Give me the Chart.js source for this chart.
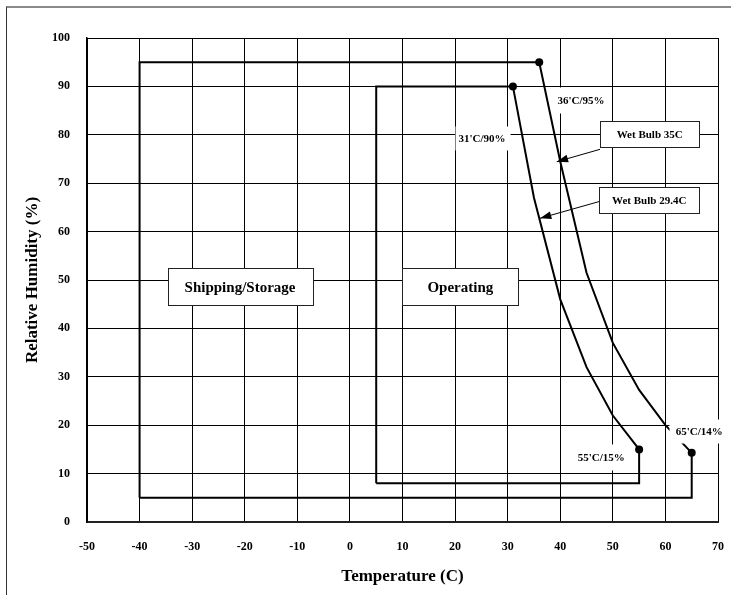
<!DOCTYPE html>
<html>
<head>
<meta charset="utf-8">
<script src="https://cdn.jsdelivr.net/npm/chart.js@4.4.0/dist/chart.umd.min.js"></script>
<style>
  html, body { margin: 0; padding: 0; background: #fff; }
  #wrap { position: relative; width: 731px; height: 595px; overflow: hidden; }
  #frame {
    position: absolute; left: 6px; top: 6px; width: 900px; height: 900px;
    border-top: 2px solid #8a8a8a; border-left: 1px solid #333;
    pointer-events: none;
  }
</style>
</head>
<body>
<div id="wrap">
  <canvas id="envChart" width="731" height="595"></canvas>
  <div id="frame"></div>
</div>
<script>
// temperature (C) and relative humidity (%) outlines
const shippingTemp = [-40, -40, 36, 40, 45, 50, 55, 60, 65, 65, -40];
const shippingRH   = [5, 95, 95, 74.5, 51.5, 37, 27.3, 20, 14.3, 5, 5];
const operatingTemp = [5, 5, 31, 35, 40, 45, 50, 55, 55, 5];
const operatingRH   = [8, 90, 90, 67, 46, 32, 22, 15, 8, 8];

// corner points that get a dot
const shippingDots = [2, 8];
const operatingDots = [2, 7];

const FONT = '"Liberation Serif", "Times New Roman", serif';

const toPoints = (xs, ys) => xs.map((t, i) => ({ x: t, y: ys[i] }));
const dotRadius = (n, idx) => Array.from({ length: n }, (_, i) => (idx.includes(i) ? 4 : 0));

// text boxes, arrows and corner notes drawn on top of the lines
const chartNotes = {
  id: "chartNotes",
  afterDatasetsDraw(chart, args, opts) {
    const { ctx } = chart;
    const xs = chart.scales.x;
    const ys = chart.scales.y;
    ctx.save();

    opts.arrows.forEach((a) => {
      const x1 = xs.getPixelForValue(a.from[0]);
      const y1 = ys.getPixelForValue(a.from[1]);
      const x2 = xs.getPixelForValue(a.to[0]);
      const y2 = ys.getPixelForValue(a.to[1]);
      const ang = Math.atan2(y2 - y1, x2 - x1);
      ctx.strokeStyle = "#000";
      ctx.fillStyle = "#000";
      ctx.lineWidth = 1;
      ctx.beginPath();
      ctx.moveTo(x1, y1);
      ctx.lineTo(x2, y2);
      ctx.stroke();
      ctx.beginPath();
      ctx.moveTo(x2, y2);
      ctx.lineTo(x2 - 12 * Math.cos(ang - 0.33), y2 - 12 * Math.sin(ang - 0.33));
      ctx.lineTo(x2 - 12 * Math.cos(ang + 0.33), y2 - 12 * Math.sin(ang + 0.33));
      ctx.closePath();
      ctx.fill();
    });

    opts.labels.forEach((l) => {
      const cx = xs.getPixelForValue(l.x);
      const cy = ys.getPixelForValue(l.y);
      const left = Math.round(cx - l.w / 2) + 0.5;
      const top = Math.round(cy - l.h / 2) + 0.5;
      ctx.fillStyle = "#fff";
      ctx.fillRect(left, top, l.w, l.h);
      if (l.border) {
        ctx.strokeStyle = "#222";
        ctx.lineWidth = 1;
        ctx.strokeRect(left, top, l.w, l.h);
      }
      ctx.fillStyle = "#000";
      ctx.font = `bold ${l.size}px ${FONT}`;
      ctx.textAlign = "center";
      ctx.textBaseline = "middle";
      ctx.fillText(l.text, cx, cy + 1);
    });

    ctx.restore();
  },
};

const chart = new Chart(document.getElementById("envChart"), {
  type: "scatter",
  data: {
    datasets: [
      {
        label: "Shipping/Storage",
        data: toPoints(shippingTemp, shippingRH),
        showLine: true,
        borderColor: "#000",
        borderWidth: 2,
        tension: 0,
        pointRadius: dotRadius(shippingTemp.length, shippingDots),
        pointBackgroundColor: "#000",
        pointBorderWidth: 0,
      },
      {
        label: "Operating",
        data: toPoints(operatingTemp, operatingRH),
        showLine: true,
        borderColor: "#000",
        borderWidth: 2,
        tension: 0,
        pointRadius: dotRadius(operatingTemp.length, operatingDots),
        pointBackgroundColor: "#000",
        pointBorderWidth: 0,
      },
    ],
  },
  options: {
    responsive: false,
    animation: false,
    devicePixelRatio: 1,
    layout: { padding: { left: 0, right: 13, top: 38, bottom: 0 } },
    scales: {
      x: {
        type: "linear",
        min: -50,
        max: 70,
        afterFit: (s) => {
          s.height = 73;
          s.paddingLeft = 0;
          s.paddingRight = 0;
        },
        grid: { color: "#000", lineWidth: 1, drawTicks: false },
        border: { color: "#222", width: 2 },
        ticks: {
          stepSize: 10,
          padding: 18,
          color: "#000",
          font: { family: FONT, size: 12, weight: "bold" },
        },
        title: {
          display: true,
          text: "Temperature (C)",
          color: "#000",
          font: { family: FONT, size: 17, weight: "bold" },
          padding: { top: 0, bottom: 8 },
        },
      },
      y: {
        min: 0,
        max: 100,
        afterFit: (s) => {
          s.width = 87;
          s.paddingTop = 0;
          s.paddingBottom = 0;
        },
        grid: { color: "#000", lineWidth: 1, drawTicks: false },
        border: { color: "#000", width: 1.5 },
        ticks: {
          stepSize: 10,
          padding: 17,
          color: "#000",
          font: { family: FONT, size: 12, weight: "bold" },
        },
        title: {
          display: true,
          text: "Relative Humidity (%)",
          color: "#000",
          font: { family: FONT, size: 17, weight: "bold" },
          padding: { top: 22, bottom: 0 },
        },
      },
    },
    plugins: {
      legend: { display: false },
      tooltip: { enabled: false },
      chartNotes: {
        arrows: [
          { from: [47.56, 77.0], to: [39.33, 74.44] },
          { from: [47.37, 66.2], to: [36.15, 62.75] },
        ],
        labels: [
          { text: "Shipping/Storage", x: -20.9, y: 48.6, w: 145, h: 37, size: 15, border: true },
          { text: "Operating", x: 21.0, y: 48.6, w: 116, h: 37, size: 15, border: true },
          { text: "Wet Bulb 35C", x: 57.01, y: 80.12, w: 99, h: 26, size: 11, border: true },
          { text: "Wet Bulb 29.4C", x: 56.92, y: 66.43, w: 100, h: 26, size: 11, border: true },
          { text: "36'C/95%", x: 43.95, y: 87.19, w: 54, h: 26, size: 11 },
          { text: "31'C/90%", x: 25.12, y: 79.4, w: 55, h: 24, size: 11 },
          { text: "55'C/15%", x: 47.81, y: 13.49, w: 56, h: 26, size: 11 },
          { text: "65'C/14%", x: 66.45, y: 18.86, w: 60, h: 24, size: 11 },
        ],
      },
    },
  },
  plugins: [chartNotes],
});
</script>
</body>
</html>
